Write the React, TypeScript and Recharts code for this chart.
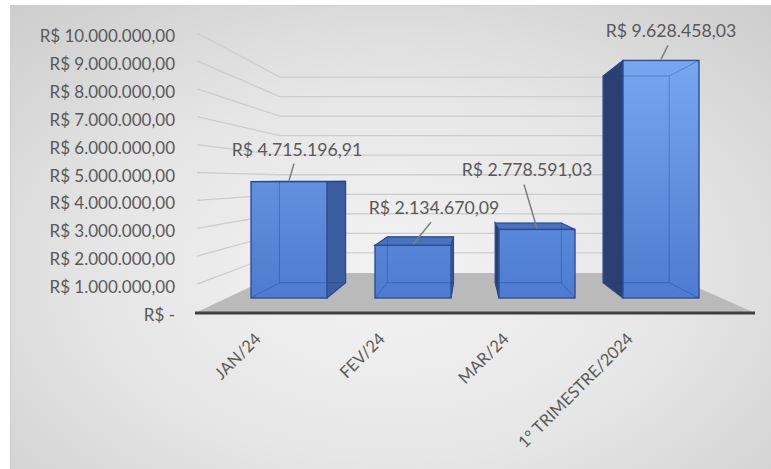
import { ComposedChart, Bar, Line, XAxis, YAxis, CartesianGrid, LabelList } from "recharts";

const categories = ["JAN/24", "FEV/24", "MAR/24", "1° TRIMESTRE/2024"];
const values = [4715196.91, 2134670.09, 2778591.03, 9628458.03];
const yTicks = [0, 1000000, 2000000, 3000000, 4000000, 5000000, 6000000, 7000000, 8000000, 9000000, 10000000];

const data = categories.map((name, i) => ({ name, value: values[i] }));

const W = 771;
const H = 469;
const FONT = "Lato, 'Open Sans', sans-serif";
const TEXT = "#595959";

// perspective helpers for the fake 3D look
const VP = { x: 470, y: 180 };
const BAR_DEPTH = 0.87;
const WALL_DEPTH = 0.7;
const WALL = { left: 280, right: 665, floorBack: 273, floorFront: 313, frontLeft: 195, frontRight: 755 };

// manually placed data labels (dx, dy from bar top centre)
const LABEL_OFFSETS = [
  { dx: 8, dy: -26 },
  { dx: 21, dy: -31 },
  { dx: -10, dy: -53 },
  { dx: 10, dy: -23 },
];

function brl(v: number) {
  const [int, dec] = Math.abs(v).toFixed(2).split(".");
  return "R$ " + int.replace(/\B(?=(\d{3})+(?!\d))/g, ".") + "," + dec;
}

function YTick({ x, y, payload }: any) {
  const label = payload.value === 0 ? "R$ -" : brl(payload.value);
  return (
    <text x={x} y={y + 8} textAnchor="end" fill={TEXT} fontSize={17} fontFamily={FONT}>
      {label}
    </text>
  );
}

function XTick({ x, y, payload }: any) {
  return (
    <text
      x={x - 27}
      y={y + 27}
      textAnchor="end"
      fill={TEXT}
      fontSize={16.5}
      fontFamily={FONT}
      transform={`rotate(-45 ${x - 27} ${y + 27})`}
    >
      {payload.value}
    </text>
  );
}

function WallLine(props: any) {
  const { x1, y1 } = props;
  if (y1 >= WALL.floorFront - 1) return <g key={props.key} />;
  const backY = VP.y + (y1 - 1 - VP.y) * WALL_DEPTH;
  return (
    <path
      key={props.key}
      d={`M${x1 + 2},${y1 - 1} L${WALL.left},${backY} L${WALL.right},${backY}`}
      stroke="#cdcdcd"
      strokeWidth={1.3}
      fill="none"
    />
  );
}

function Box3D(props: any) {
  const { x, y, width, height } = props;
  const L = x, R = x + width, T = y, B = y + height;
  const px = (v: number) => VP.x + (v - VP.x) * BAR_DEPTH;
  const py = (v: number) => VP.y + (v - VP.y) * BAR_DEPTH;
  const l = px(L), r = px(R), t = py(T), b = py(B);
  const edge = "#2c4f92";
  const hidden = "rgba(30,60,140,0.35)";
  return (
    <g>
      {r > R && (
        <polygon points={`${R},${T} ${r},${t} ${r},${b} ${R},${B}`} fill="#3c5d9e" stroke={edge} strokeWidth={1.2} />
      )}
      {l < L && (
        <polygon points={`${L},${T} ${l},${t} ${l},${b} ${L},${B}`} fill="#2a4070" stroke={edge} strokeWidth={1.2} />
      )}
      {t < T && (
        <polygon points={`${L},${T} ${R},${T} ${r},${t} ${l},${t}`} fill="#4a72bd" stroke={edge} strokeWidth={1.2} />
      )}
      <rect x={L} y={T} width={width} height={height} fill="url(#frontGrad)" stroke={edge} strokeWidth={1.4} />
      <rect x={l} y={t} width={r - l} height={b - t} fill="none" stroke={hidden} strokeWidth={1} />
      <line x1={L} y1={T} x2={l} y2={t} stroke={hidden} />
      <line x1={R} y1={T} x2={r} y2={t} stroke={hidden} />
      <line x1={L} y1={B} x2={l} y2={b} stroke={hidden} />
      <line x1={R} y1={B} x2={r} y2={b} stroke={hidden} />
    </g>
  );
}

function DataLabel(props: any) {
  const { x, y, width, value, index } = props;
  const off = LABEL_OFFSETS[index] || { dx: 0, dy: -20 };
  const cx = x + width / 2;
  const lx = cx + off.dx;
  const ly = y + off.dy;
  return (
    <g>
      <line x1={lx - 3} y1={ly + 8} x2={cx} y2={y - 1} stroke="#7f7f7f" strokeWidth={1.5} />
      <text x={lx} y={ly} textAnchor="middle" fill={TEXT} fontSize={17.7} fontFamily={FONT}>
        {brl(value)}
      </text>
    </g>
  );
}

export default function App() {
  return (
    <div style={{ position: "absolute", left: 0, top: 0, width: W, height: H, background: "#ffffff", overflow: "hidden" }}>
      <div
        style={{
          position: "absolute",
          left: 10,
          top: 5,
          width: W - 10,
          height: H - 5,
          borderTop: "1px solid #cfcfcf",
          borderLeft: "1px solid #cfcfcf",
          background: "radial-gradient(ellipse 75% 80% at 50% 58%, #f3f3f3 0%, #e6e6e6 50%, #cccccc 100%)",
        }}
      />
      <svg width={W} height={H} style={{ position: "absolute", left: 0, top: 0 }}>
        <polygon
          points={`${WALL.frontLeft},${WALL.floorFront} ${WALL.frontRight},${WALL.floorFront} ${WALL.right},${WALL.floorBack} ${WALL.left},${WALL.floorBack}`}
          fill="#bababa"
        />
        <line x1={WALL.frontLeft} y1={WALL.floorFront} x2={WALL.frontRight} y2={WALL.floorFront} stroke="#404040" strokeWidth={3} />
      </svg>
      <div style={{ position: "absolute", left: 0, top: 0 }}>
        <ComposedChart width={W} height={H} data={data} margin={{ top: 34, right: 26, bottom: 96, left: 0 }}>
          <defs>
            <linearGradient id="frontGrad" gradientUnits="userSpaceOnUse" x1="0" y1="50" x2="0" y2="300">
              <stop offset="0%" stopColor="#7aa8f0" />
              <stop offset="100%" stopColor="#4c7bd0" />
            </linearGradient>
          </defs>
          <CartesianGrid yAxisId="left" vertical={false} horizontal={(p: any) => WallLine(p)} />
          <XAxis
            dataKey="name"
            height={60}
            axisLine={false}
            tickLine={false}
            tickSize={0}
            tickMargin={0}
            interval={0}
            padding={{ left: 32, right: 22 }}
            tick={<XTick />}
          />
          <YAxis
            yAxisId="left"
            width={195}
            domain={[0, 10000000]}
            ticks={yTicks}
            interval={0}
            axisLine={false}
            tickLine={false}
            tickSize={0}
            tickMargin={20}
            tick={<YTick />}
          />
          <YAxis yAxisId="bars" orientation="right" hide domain={[-608000, 10700000]} allowDataOverflow />
          {/* invisible series so the label axis gets its ticks */}
          <Line yAxisId="left" dataKey="value" stroke="none" dot={false} activeDot={false} isAnimationActive={false} />
          <Bar yAxisId="bars" dataKey="value" barSize={76} isAnimationActive={false} shape={<Box3D />}>
            <LabelList dataKey="value" content={<DataLabel />} />
          </Bar>
        </ComposedChart>
      </div>
    </div>
  );
}
